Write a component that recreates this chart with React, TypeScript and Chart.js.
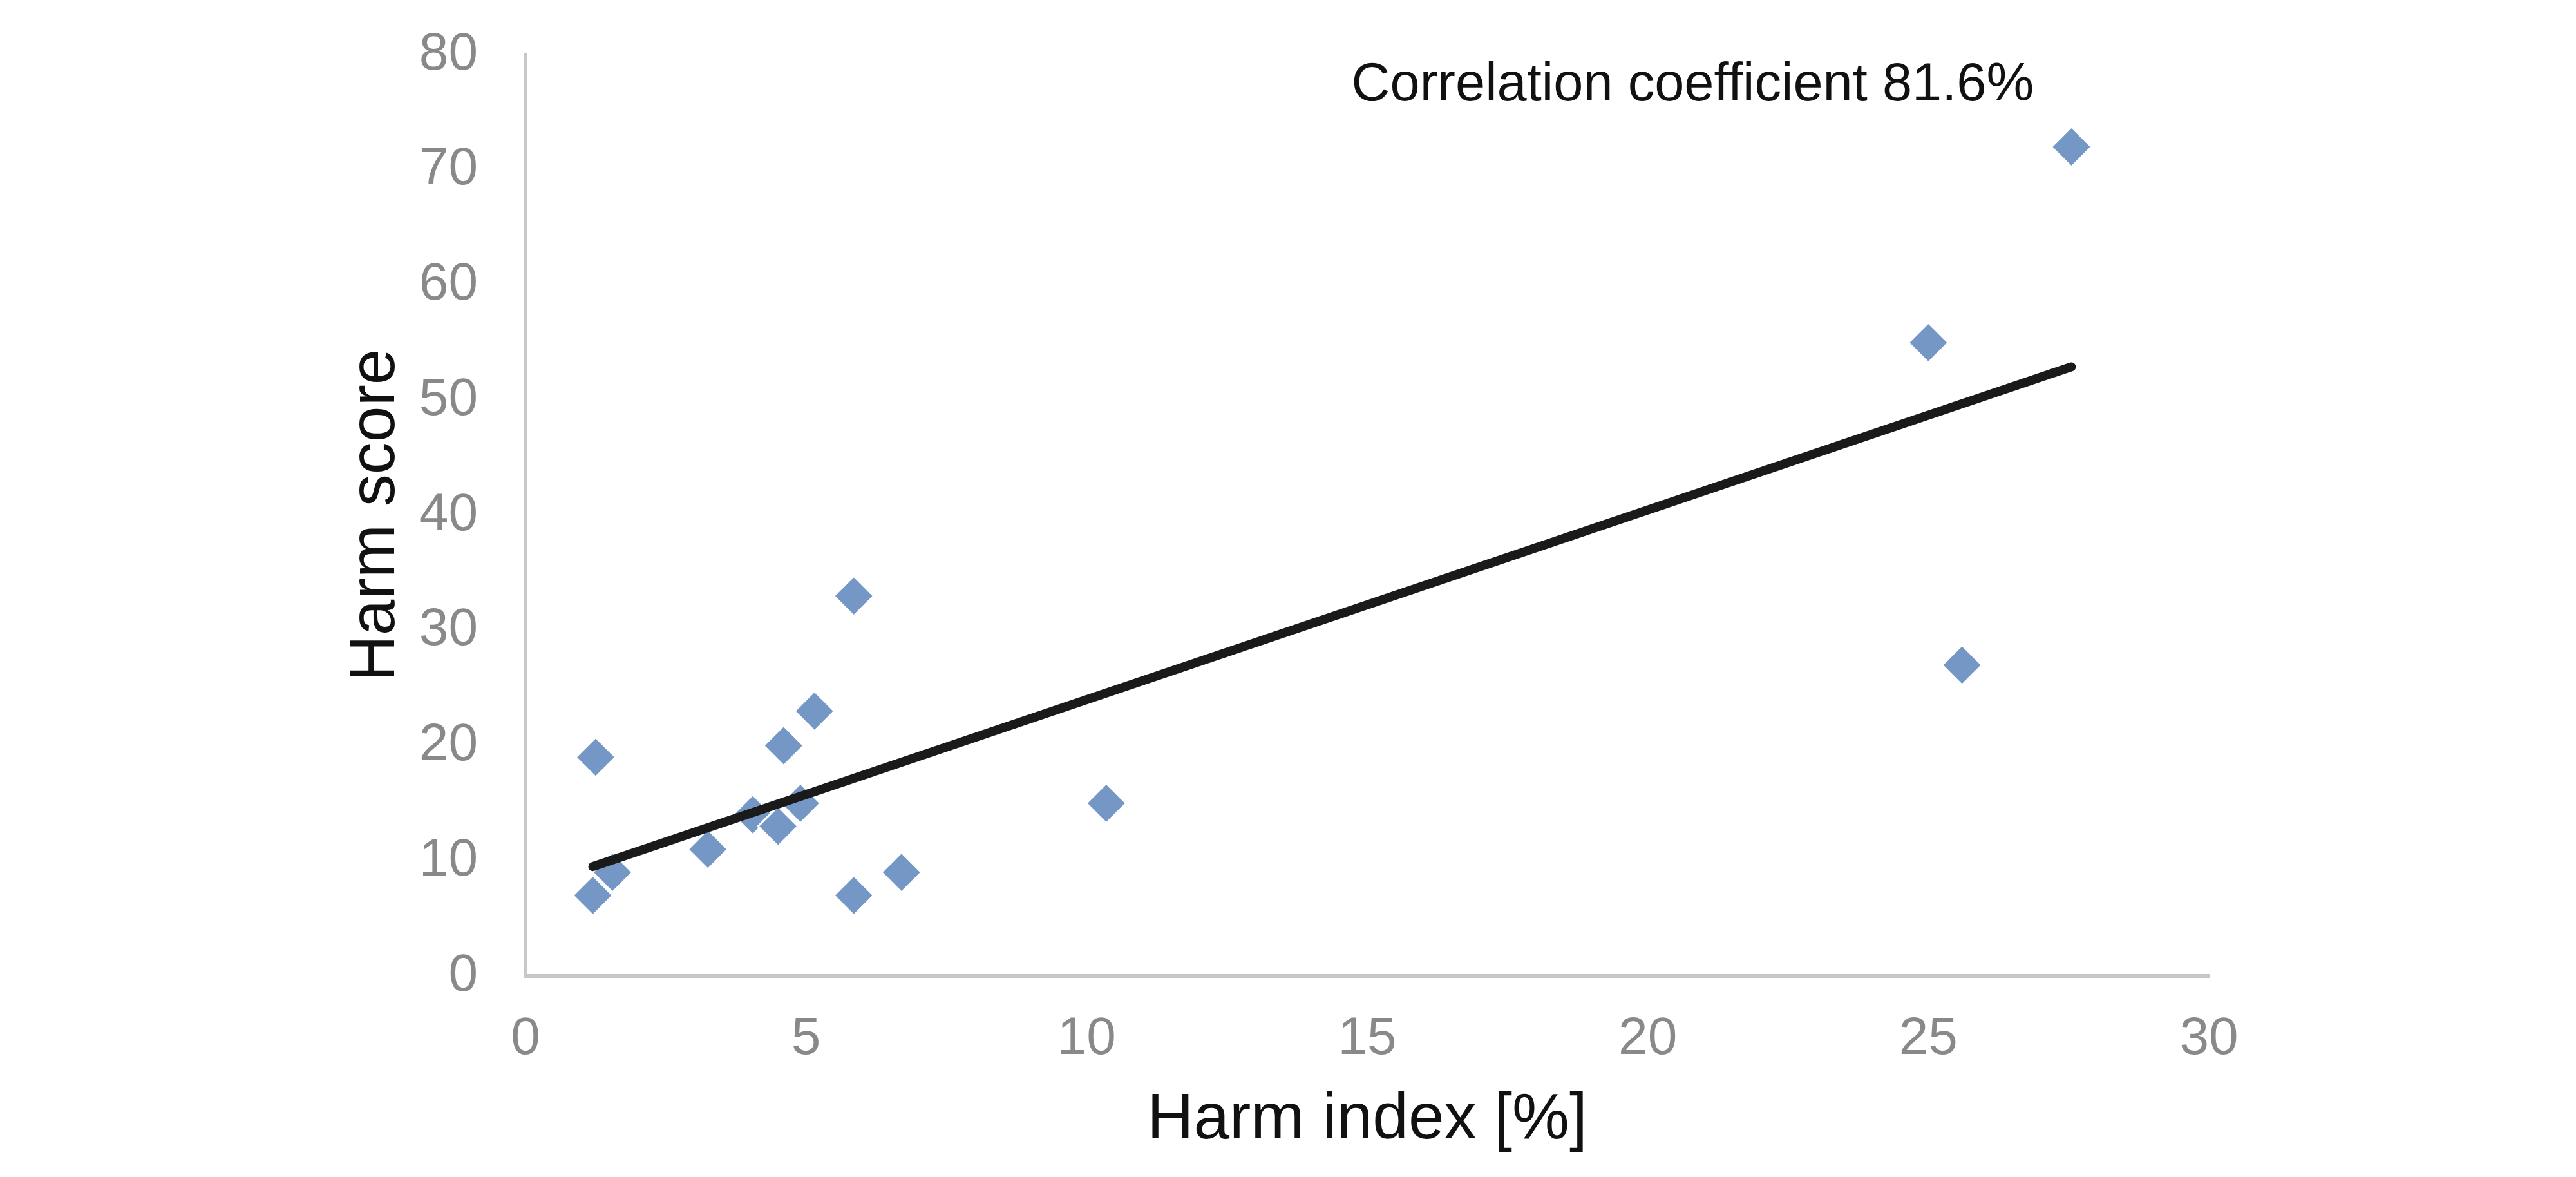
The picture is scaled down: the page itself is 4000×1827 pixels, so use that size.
import React, { useEffect, useRef } from "react";
import { Chart, registerables } from "chart.js";

Chart.register(...registerables);

// ---- Data ----
const harmIndex = [1.2, 1.25, 1.55, 3.25, 4.05, 4.5, 4.6, 4.9, 5.15, 5.85, 5.85, 6.7, 10.35, 25.0, 25.6, 27.55];
const harmScore = [7, 19, 9, 11, 14, 13, 20, 15, 23, 33, 7, 9, 15, 55, 27, 72];
const trendX = [1.2, 27.55];
const trendY = [9.5, 52.9];
const xTickValues = [0, 5, 10, 15, 20, 25, 30];
const yTickValues = [0, 10, 20, 30, 40, 50, 60, 70, 80];
const xTitle = "Harm index [%]";
const yTitle = "Harm score";
const annotationText = "Correlation coefficient 81.6%";
const annotationX = 14.72;
const annotationY = 77.3;

const FONT = '"Liberation Sans", Arial, Helvetica, sans-serif';

const annotationPlugin = {
  id: "corrText",
  afterDatasetsDraw(chart: any) {
    const { ctx, scales } = chart;
    const px = scales.x.getPixelForValue(annotationX);
    const py = scales.y.getPixelForValue(annotationY);
    ctx.save();
    ctx.font = `83px ${FONT}`;
    ctx.fillStyle = "#111111";
    ctx.textAlign = "left";
    ctx.textBaseline = "middle";
    ctx.fillText(annotationText, px, py);
    ctx.restore();
  },
};

export default function App() {
  const canvasRef = useRef<HTMLCanvasElement | null>(null);

  useEffect(() => {
    if (!canvasRef.current) return;
    const scatterData = harmIndex.map((x, i) => ({ x, y: harmScore[i] }));
    const trendData = trendX.map((x, i) => ({ x, y: trendY[i] }));

    const chart = new Chart(canvasRef.current, {
      type: "scatter",
      data: {
        datasets: [
          {
            type: "line",
            label: "Trend",
            data: trendData,
            borderColor: "#1a1a1a",
            borderWidth: 14,
            borderCapStyle: "round",
            pointRadius: 0,
            fill: false,
            order: 0,
          } as any,
          {
            label: "Harm score",
            data: scatterData,
            pointStyle: "rectRot",
            pointRadius: 31,
            pointHoverRadius: 31,
            backgroundColor: "#7497c6",
            borderColor: "#ffffff",
            borderWidth: 3,
            order: 1,
          } as any,
        ],
      },
      options: {
        responsive: false,
        animation: false,
        devicePixelRatio: 1,
        layout: { padding: { left: 524, right: 570, top: 85, bottom: 0 } },
        plugins: {
          legend: { display: false },
          tooltip: { enabled: false },
        },
        scales: {
          x: {
            type: "linear",
            min: 0,
            max: 30,
            afterBuildTicks: (s: any) => {
              s.ticks = xTickValues.map((v) => ({ value: v }));
            },
            afterFit: (s: any) => {
              s.height = 312;
              s.paddingLeft = 40;
              s.paddingRight = 40;
            },
            ticks: {
              color: "#898989",
              font: { family: FONT, size: 82 },
              padding: 49,
              maxRotation: 0,
            },
            grid: { display: false, drawTicks: false },
            border: { display: true, color: "#c8c8c8", width: 6 },
            title: {
              display: true,
              text: xTitle,
              color: "#111111",
              font: { family: FONT, size: 100 },
              padding: { top: 0, bottom: 28 },
            },
          },
          y: {
            type: "linear",
            min: 0,
            max: 80,
            afterBuildTicks: (s: any) => {
              s.ticks = yTickValues.map((v) => ({ value: v }));
            },
            afterFit: (s: any) => {
              s.width = 292;
              s.paddingTop = 40;
              s.paddingBottom = 40;
            },
            ticks: {
              color: "#898989",
              font: { family: FONT, size: 82 },
              padding: 74,
            },
            grid: { display: false, drawTicks: false },
            border: { display: true, color: "#c8c8c8", width: 4 },
            title: {
              display: true,
              text: yTitle,
              color: "#111111",
              font: { family: FONT, size: 100 },
              padding: { top: 0, bottom: 0 },
            },
          },
        },
      },
      plugins: [annotationPlugin],
    } as any);

    return () => {
      chart.destroy();
    };
  }, []);

  return (
    <div style={{ position: "fixed", left: 0, top: 0, width: 4000, height: 1827, background: "#ffffff" }}>
      <canvas ref={canvasRef} width={4000} height={1827} style={{ display: "block", width: 4000, height: 1827 }} />
    </div>
  );
}
